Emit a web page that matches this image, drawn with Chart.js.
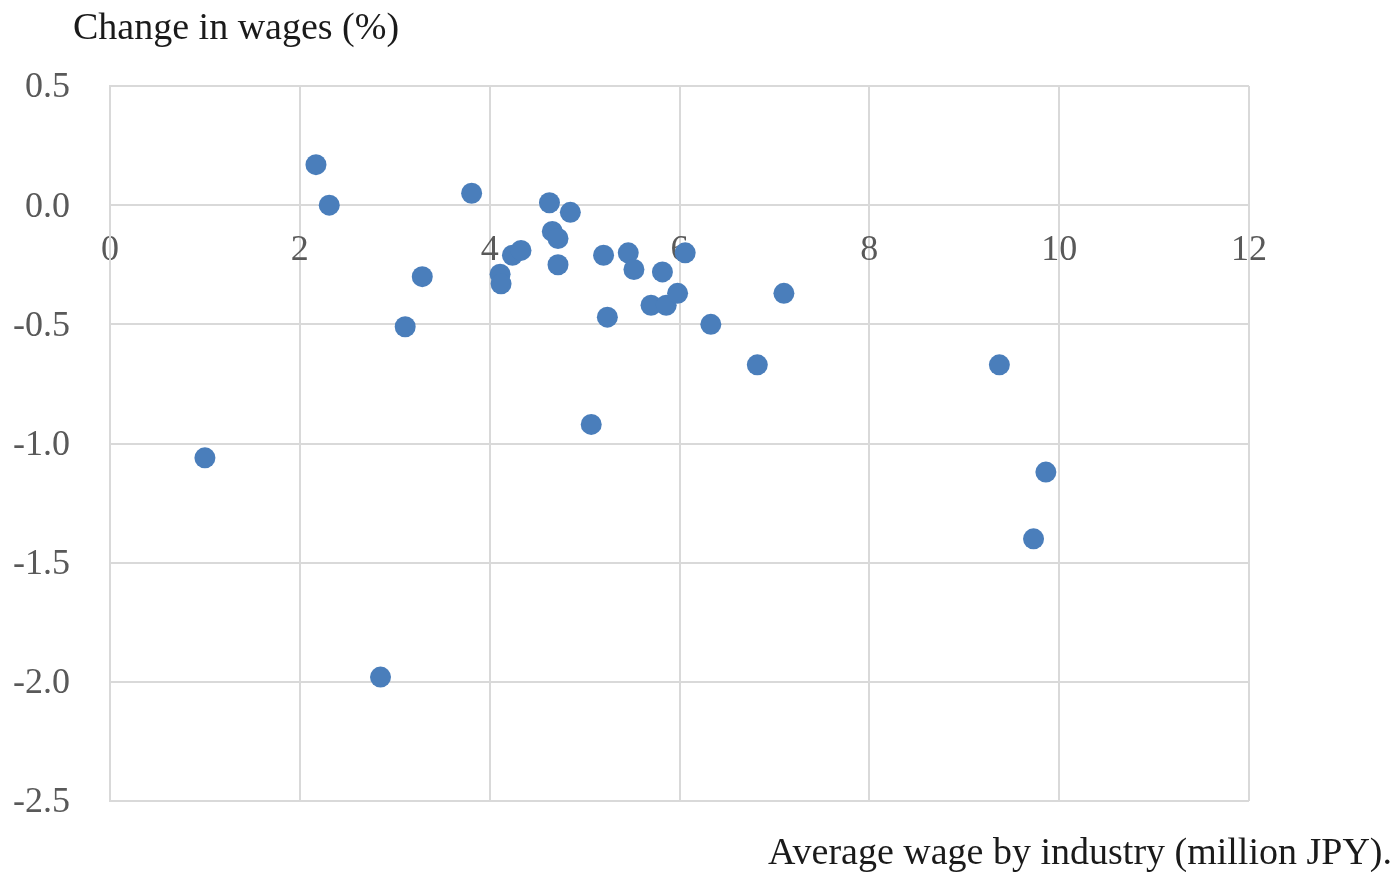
<!DOCTYPE html>
<html>
<head>
<meta charset="utf-8">
<title>Average wage vs. change in wages by industry</title>
<script src="https://cdn.jsdelivr.net/npm/chart.js@4.4.1/dist/chart.umd.min.js"></script>
<style>
  html, body { margin: 0; padding: 0; background: #ffffff; }
  #wrap { width: 1396px; height: 872px; position: relative; }
</style>
</head>
<body>
<div id="wrap"><canvas id="chart" width="1396" height="872"></canvas></div>
<script>
// Average wage by industry (million JPY)
const avgWage = [
  1.00, 2.17, 2.31, 2.85, 3.11, 3.29, 3.81, 4.11, 4.12, 4.24,
  4.33, 4.63, 4.66, 4.72, 4.72, 4.85, 5.07, 5.20, 5.24, 5.46,
  5.52, 5.70, 5.82, 5.86, 5.98, 6.06, 6.33, 6.82, 7.10, 9.37,
  9.86, 9.73
];
// Change in wages (%)
const wageChange = [
  -1.06, 0.17, 0.00, -1.98, -0.51, -0.30, 0.05, -0.29, -0.33, -0.21,
  -0.19, 0.01, -0.11, -0.14, -0.25, -0.03, -0.92, -0.21, -0.47, -0.20,
  -0.27, -0.42, -0.28, -0.42, -0.37, -0.20, -0.50, -0.67, -0.37, -0.67,
  -1.12, -1.40
];
const xTicks = [0, 2, 4, 6, 8, 10, 12];
const yTicks = [0.5, 0.0, -0.5, -1.0, -1.5, -2.0, -2.5];

const yAxisTitle = 'Change in wages (%)';
const xAxisTitle = 'Average wage by industry (million JPY).';

const FONT = '"Liberation Serif", "DejaVu Serif", serif';
const GRID = '#d9d9d9';
const TICK_COLOR = '#595959';

const points = avgWage.map((x, i) => ({ x: x, y: wageChange[i] }));

// Axis titles sit outside the usual axis-title slots, so they are drawn here.
const axisTitles = {
  id: 'axisTitles',
  afterDraw(chart) {
    const ctx = chart.ctx;
    const area = chart.chartArea;
    ctx.save();
    ctx.fillStyle = '#1a1a1a';
    ctx.font = '38px ' + FONT;
    ctx.textBaseline = 'middle';
    ctx.textAlign = 'left';
    ctx.fillText(yAxisTitle, 73, 29);
    ctx.textAlign = 'right';
    ctx.fillText(xAxisTitle, 1392, area.bottom + 53);
    ctx.restore();
  }
};

const xScaleBase = {
  type: 'linear',
  min: 0,
  max: 12,
  position: { y: 0 },
  afterBuildTicks(scale) { scale.ticks = xTicks.map(v => ({ value: v })); }
};

new Chart(document.getElementById('chart'), {
  type: 'scatter',
  data: {
    datasets: [{
      label: 'Industries',
      data: points,
      xAxisID: 'x',
      yAxisID: 'y',
      backgroundColor: '#4a7ebb',
      borderColor: '#4a7ebb',
      borderWidth: 0,
      pointRadius: 10.5,
      pointHoverRadius: 10.5
    }]
  },
  options: {
    responsive: false,
    animation: false,
    events: [],
    layout: { padding: { top: 86, bottom: 71, left: 0, right: 147 } },
    plugins: {
      legend: { display: false },
      tooltip: { enabled: false },
      title: { display: false }
    },
    scales: {
      x: Object.assign({}, xScaleBase, {
        grid: { color: GRID, lineWidth: 2, drawTicks: false },
        border: { display: true, color: GRID, width: 2 },
        ticks: { display: false }
      }),
      xLabels: Object.assign({}, xScaleBase, {
        z: 1,
        grid: { display: false, drawTicks: false },
        border: { display: false },
        ticks: {
          color: TICK_COLOR,
          font: { family: FONT, size: 36 },
          padding: 24,
          maxRotation: 0,
          autoSkip: false
        }
      }),
      y: {
        type: 'linear',
        min: -2.5,
        max: 0.5,
        afterBuildTicks(scale) { scale.ticks = yTicks.map(v => ({ value: v })); },
        afterFit(scale) { scale.width = 110; },
        grid: { color: GRID, lineWidth: 2, drawTicks: false },
        border: { display: true, color: GRID, width: 2 },
        ticks: {
          color: TICK_COLOR,
          font: { family: FONT, size: 36 },
          padding: 40,
          labelOffset: 2,
          autoSkip: false,
          callback: v => Number(v).toFixed(1)
        }
      }
    }
  },
  plugins: [axisTitles]
});
</script>
</body>
</html>
